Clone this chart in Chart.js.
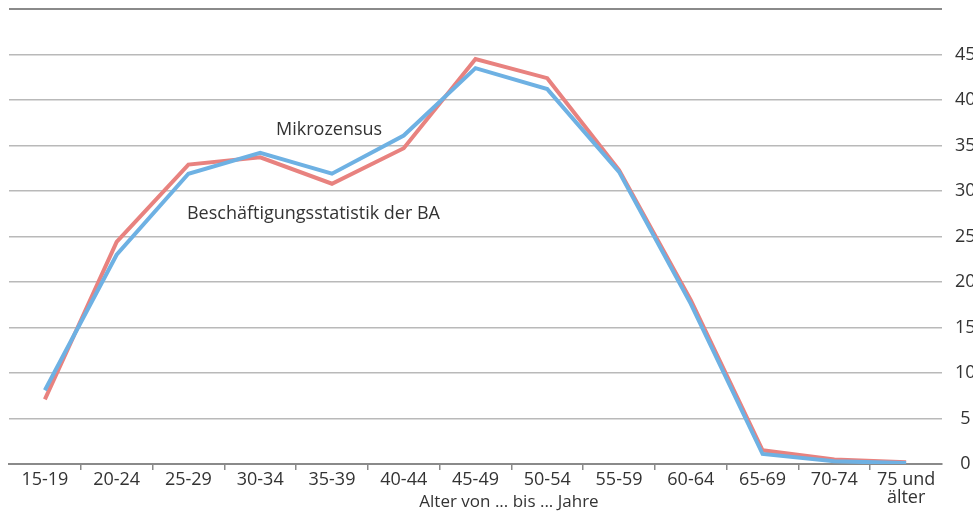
<!DOCTYPE html>
<html>
<head>
<meta charset="utf-8">
<script src="https://cdn.jsdelivr.net/npm/chart.js@4.4.0/dist/chart.umd.min.js"></script>
<style>
  html, body { margin: 0; padding: 0; background: #ffffff; overflow: hidden; }
  #wrap { width: 973px; height: 524px; position: relative; }
</style>
</head>
<body>
<div id="wrap"><canvas id="c" width="973" height="524"></canvas></div>
<script>
const categories = ["15-19", "20-24", "25-29", "30-34", "35-39", "40-44", "45-49", "50-54", "55-59", "60-64", "65-69", "70-74", ["75 und", "älter"]];
const mikrozensus = [8.1, 23.0, 31.9, 34.2, 31.9, 36.1, 43.5, 41.2, 32.1, 17.6, 1.1, 0.3, 0.1];
const beschaeftigungsstatistik = [7.1, 24.4, 32.9, 33.7, 30.8, 34.7, 44.5, 42.4, 32.3, 18.0, 1.5, 0.5, 0.2];
const yTicks = [0, 5, 10, 15, 20, 25, 30, 35, 40, 45, 50];
const seriesNames = ["Mikrozensus", "Beschäftigungsstatistik der BA"];
const axisTitle = "Alter von ... bis ... Jahre";

const FONT = "'Open Sans', 'Noto Sans', sans-serif";
const TEXT = "#333333";

const labelPlugin = {
  id: "labels",
  afterDraw(chart) {
    const ctx = chart.ctx;
    const xs = chart.scales.x, ys = chart.scales.y;
    ctx.save();
    ctx.fillStyle = TEXT;
    ctx.font = "18px " + FONT;
    ctx.textBaseline = "alphabetic";
    ctx.textAlign = "center";
    ctx.fillText(seriesNames[0], xs.getPixelForValue(3.96), ys.getPixelForValue(36.2));
    ctx.textAlign = "left";
    ctx.fillText(seriesNames[1], xs.getPixelForValue(1.98), ys.getPixelForValue(26.9));
    ctx.font = "17px " + FONT;
    ctx.textAlign = "center";
    ctx.textBaseline = "alphabetic";
    ctx.fillText(axisTitle, 509, 507);
    ctx.restore();
  }
};

function noPad(scale) {
  scale.paddingTop = 0; scale.paddingBottom = 0;
  scale.paddingLeft = 0; scale.paddingRight = 0;
}

new Chart(document.getElementById("c"), {
  type: "line",
  data: {
    labels: categories,
    datasets: [
      {
        label: seriesNames[0],
        data: mikrozensus,
        borderColor: "#6eb1e3",
        borderWidth: 4,
        pointRadius: 0,
        tension: 0,
        borderJoinStyle: "miter",
        borderCapStyle: "butt",
        fill: false
      },
      {
        label: seriesNames[1],
        data: beschaeftigungsstatistik,
        borderColor: "#e8827f",
        borderWidth: 4,
        pointRadius: 0,
        tension: 0,
        borderJoinStyle: "miter",
        borderCapStyle: "butt",
        fill: false
      }
    ]
  },
  options: {
    responsive: false,
    animation: false,
    devicePixelRatio: 1,
    layout: { padding: { left: 9, top: 9, right: 0, bottom: 16 } },
    plugins: { legend: { display: false }, tooltip: { enabled: false }, title: { display: false } },
    scales: {
      x: {
        type: "category",
        offset: true,
        afterFit: noPad,
        grid: {
          offset: true,
          drawOnChartArea: false,
          drawTicks: true,
          tickLength: 6,
          lineWidth: 1.5,
          color: (ctx) => (ctx.index === 0 || ctx.index === undefined) ? "rgba(0,0,0,0)" : "#8a8a8a"
        },
        border: { display: true, color: "#8a8a8a", width: 2 },
        ticks: {
          color: TEXT,
          font: { family: FONT, size: 18, lineHeight: 1.0 },
          padding: 1,
          maxRotation: 0,
          autoSkip: false
        }
      },
      y: {
        position: "right",
        min: 0,
        max: 50,
        afterBuildTicks(scale) { scale.ticks = yTicks.map(v => ({ value: v })); },
        afterFit(scale) { noPad(scale); scale.width = 31; },
        grid: {
          drawTicks: false,
          lineWidth: (ctx) => ctx.tick && ctx.tick.value === 50 ? 2 : 1.5,
          color: (ctx) => {
            if (!ctx.tick) return "rgba(0,0,0,0)";
            if (ctx.tick.value === 0) return "rgba(0,0,0,0)";
            if (ctx.tick.value === 50) return "#8a8a8a";
            return "#b9b9b9";
          }
        },
        border: { display: false },
        ticks: {
          color: TEXT,
          font: { family: FONT, size: 18, lineHeight: 1.0 },
          padding: 13,
          crossAlign: "center",
          callback: (v) => v === 50 ? "" : String(v)
        }
      }
    }
  },
  plugins: [labelPlugin]
});
</script>
</body>
</html>
